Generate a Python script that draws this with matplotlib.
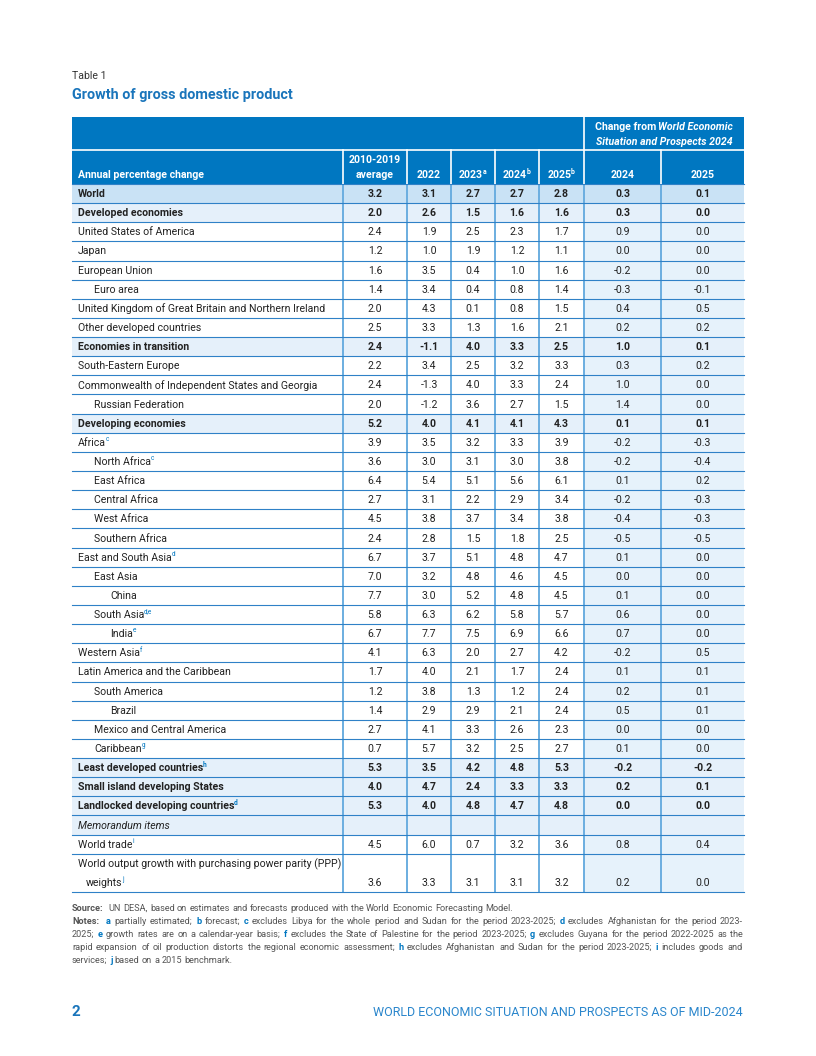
import matplotlib
matplotlib.use("Agg")
import matplotlib.pyplot as plt
from matplotlib.patches import Rectangle

# ---------------- data ----------------
labels = [
    "World", "Developed economies", "United States of America", "Japan",
    "European Union", "Euro area",
    "United Kingdom of Great Britain and Northern Ireland",
    "Other developed countries", "Economies in transition",
    "South-Eastern Europe", "Commonwealth of Independent States and Georgia",
    "Russian Federation", "Developing economies", "Africa", "North Africa",
    "East Africa", "Central Africa", "West Africa", "Southern Africa",
    "East and South Asia", "East Asia", "China", "South Asia", "India",
    "Western Asia", "Latin America and the Caribbean", "South America",
    "Brazil", "Mexico and Central America", "Caribbean",
    "Least developed countries", "Small island developing States",
    "Landlocked developing countries", "Memorandum items", "World trade",
    "World output growth with purchasing power parity (PPP)",
]
indent = [0, 0, 0, 0, 0, 1, 0, 0, 0, 0, 0, 1, 0, 0, 1, 1, 1, 1, 1, 0, 1, 2,
          1, 2, 0, 0, 1, 2, 1, 1, 0, 0, 0, 0, 0, 0]
bold = [1, 1, 0, 0, 0, 0, 0, 0, 1, 0, 0, 0, 1, 0, 0, 0, 0, 0, 0, 0, 0, 0,
        0, 0, 0, 0, 0, 0, 0, 0, 1, 1, 1, 0, 0, 0]
sups = ["", "", "", "", "", "", "", "", "", "", "", "", "", "c", "c", "",
        "", "", "", "d", "", "", "d,e", "e", "f", "", "", "", "", "g", "h",
        "", "d", "", "i", ""]

avg_2010_2019 = [3.2, 2.0, 2.4, 1.2, 1.6, 1.4, 2.0, 2.5, 2.4, 2.2, 2.4, 2.0,
                 5.2, 3.9, 3.6, 6.4, 2.7, 4.5, 2.4, 6.7, 7.0, 7.7, 5.8, 6.7,
                 4.1, 1.7, 1.2, 1.4, 2.7, 0.7, 5.3, 4.0, 5.3, None, 4.5, 3.6]
y2022 = [3.1, 2.6, 1.9, 1.0, 3.5, 3.4, 4.3, 3.3, -1.1, 3.4, -1.3, -1.2,
         4.0, 3.5, 3.0, 5.4, 3.1, 3.8, 2.8, 3.7, 3.2, 3.0, 6.3, 7.7,
         6.3, 4.0, 3.8, 2.9, 4.1, 5.7, 3.5, 4.7, 4.0, None, 6.0, 3.3]
y2023 = [2.7, 1.5, 2.5, 1.9, 0.4, 0.4, 0.1, 1.3, 4.0, 2.5, 4.0, 3.6,
         4.1, 3.2, 3.1, 5.1, 2.2, 3.7, 1.5, 5.1, 4.8, 5.2, 6.2, 7.5,
         2.0, 2.1, 1.3, 2.9, 3.3, 3.2, 4.2, 2.4, 4.8, None, 0.7, 3.1]
y2024 = [2.7, 1.6, 2.3, 1.2, 1.0, 0.8, 0.8, 1.6, 3.3, 3.2, 3.3, 2.7,
         4.1, 3.3, 3.0, 5.6, 2.9, 3.4, 1.8, 4.8, 4.6, 4.8, 5.8, 6.9,
         2.7, 1.7, 1.2, 2.1, 2.6, 2.5, 4.8, 3.3, 4.7, None, 3.2, 3.1]
y2025 = [2.8, 1.6, 1.7, 1.1, 1.6, 1.4, 1.5, 2.1, 2.5, 3.3, 2.4, 1.5,
         4.3, 3.9, 3.8, 6.1, 3.4, 3.8, 2.5, 4.7, 4.5, 4.5, 5.7, 6.6,
         4.2, 2.4, 2.4, 2.4, 2.3, 2.7, 5.3, 3.3, 4.8, None, 3.6, 3.2]
chg2024 = [0.3, 0.3, 0.9, 0.0, -0.2, -0.3, 0.4, 0.2, 1.0, 0.3, 1.0, 1.4,
           0.1, -0.2, -0.2, 0.1, -0.2, -0.4, -0.5, 0.1, 0.0, 0.1, 0.6, 0.7,
           -0.2, 0.1, 0.2, 0.5, 0.0, 0.1, -0.2, 0.2, 0.0, None, 0.8, 0.2]
chg2025 = [0.1, 0.0, 0.0, 0.0, 0.0, -0.1, 0.5, 0.2, 0.1, 0.2, 0.0, 0.0,
           0.1, -0.3, -0.4, 0.2, -0.3, -0.3, -0.5, 0.0, 0.0, 0.0, 0.0, 0.0,
           0.5, 0.1, 0.1, 0.1, 0.0, 0.0, -0.2, 0.1, 0.0, None, 0.4, 0.0]

col_headers = [("2010-2019\naverage", ""), ("2022", ""), ("2023", "a"),
               ("2024", "b"), ("2025", "b"), ("2024", ""), ("2025", "")]

# ---------------- style ----------------
FONT = ["Roboto", "DejaVu Sans"]
plt.rcParams["font.family"] = FONT
BLUE = "#0077C1"
TXT = "#222222"
WORLD_FILL = "#C9E2F5"
BOLD_FILL = "#E5F0FA"
CHG_FILL = "#E6F2FB"
HLINE = "#2F81C7"
VLINE = "#6BAEE0"
GRAY = "#555555"

W, H = 816, 1056
fig = plt.figure(figsize=(W / 100, H / 100), dpi=100)
ax = fig.add_axes([0, 0, 1, 1])
ax.set_xlim(0, W)
ax.set_ylim(H, 0)
ax.axis("off")
renderer = fig.canvas.get_renderer()


def width_of(t):
    return t.get_window_extent(renderer=renderer).width


def text_with_sup(x, y, s, sup, size, weight, color, sup_color, ha="left",
                  style="normal"):
    t = ax.text(x, y, s, fontsize=size, fontweight=weight, color=color,
                ha=ha, va="center", fontstyle=style)
    if sup:
        w = width_of(t)
        xe = x + w
        ax.text(xe - 0.3, y - 3.2, sup, fontsize=size * 0.62,
                fontweight=weight, color=sup_color, ha="left", va="center")
    return t


# column boundaries (px)
xb = [72, 343, 407, 451, 495, 539, 584, 661, 744]
top = 117
hmid = 150
hbot = 184
nunits = len(labels) + 1  # PPP row is double height
tbot = 892
rh = (tbot - hbot) / nunits

# ---------------- titles ----------------
ax.text(72, 76, "Table 1", fontsize=7.6, color="#333333", va="center")
ax.text(72, 94.5, "Growth of gross domestic product", fontsize=10.4,
        fontweight="bold", color="#1A75BB", va="center")

# ---------------- header ----------------
ax.add_patch(Rectangle((xb[0], top), xb[-1] - xb[0], hbot - top,
                       facecolor=BLUE, edgecolor="none"))
ax.plot([xb[0], xb[-1]], [hmid, hmid], color="white", lw=1.2)
ax.plot([xb[6], xb[6]], [top, hbot], color="white", lw=1.2)
for xv in xb[1:6] + [xb[7]]:
    ax.plot([xv, xv], [hmid, hbot], color="white", lw=1.2)

HS = 7.6
ax.text(xb[0] + 6, 175, "Annual percentage change", fontsize=HS,
        fontweight="bold", color="white", va="center")
cx_chg = (xb[6] + xb[8]) / 2
t1 = ax.text(cx_chg, 127, "Change from ", fontsize=HS, fontweight="bold",
             color="white", va="center", ha="left")
t2 = ax.text(cx_chg, 127, "World Economic", fontsize=HS, fontweight="bold",
             fontstyle="italic", color="white", va="center", ha="left")
w1, w2 = width_of(t1), width_of(t2)
x0 = cx_chg - (w1 + w2) / 2
t1.set_x(x0)
t2.set_x(x0 + w1)
ax.text(cx_chg, 142, "Situation and Prospects 2024", fontsize=HS,
        fontweight="bold", fontstyle="italic", color="white", va="center",
        ha="center")
for i, (h, sup) in enumerate(col_headers):
    cx = (xb[i + 1] + xb[i + 2]) / 2
    if "\n" in h:
        a, b = h.split("\n")
        ax.text(cx, 160, a, fontsize=HS, fontweight="bold", color="white",
                ha="center", va="center")
        ax.text(cx, 175, b, fontsize=HS, fontweight="bold", color="white",
                ha="center", va="center")
    else:
        t = ax.text(cx, 175, h, fontsize=HS, fontweight="bold",
                    color="white", ha="center", va="center")
        if sup:
            w = width_of(t)
            t.set_x(cx - 2)
            ax.text(cx - 2 + w / 2 - 0.6, 171.5, sup, fontsize=HS * 0.65,
                    fontweight="bold", color="white", ha="left",
                    va="center")

# ---------------- body ----------------
cols = [avg_2010_2019, y2022, y2023, y2024, y2025, chg2024, chg2025]
BS = 7.6
ytop = hbot
row_tops = []
for r, lab in enumerate(labels):
    units = 2 if r == len(labels) - 1 else 1
    y0 = ytop
    y1 = ytop + units * rh
    row_tops.append((y0, y1))
    # fills
    if r == 0:
        ax.add_patch(Rectangle((xb[0], y0), xb[-1] - xb[0], y1 - y0,
                               facecolor=WORLD_FILL, edgecolor="none"))
    elif bold[r] or lab == "Memorandum items":
        ax.add_patch(Rectangle((xb[0], y0), xb[-1] - xb[0], y1 - y0,
                               facecolor=BOLD_FILL, edgecolor="none"))
    else:
        ax.add_patch(Rectangle((xb[6], y0), xb[-1] - xb[6], y1 - y0,
                               facecolor=CHG_FILL, edgecolor="none"))
    wt = "bold" if bold[r] else "normal"
    st = "italic" if lab == "Memorandum items" else "normal"
    lx = xb[0] + 6 + indent[r] * 16
    if units == 1:
        yc = (y0 + y1) / 2 + 0.5
        text_with_sup(lx, yc, lab, sups[r], BS, wt, TXT, BLUE, style=st)
    else:
        ax.text(lx, y0 + rh / 2 + 0.5, lab, fontsize=BS, color=TXT,
                va="center")
        yc = y0 + 1.5 * rh + 0.5
        text_with_sup(lx + 8, yc, "weights", "j", BS, wt, TXT, BLUE)
    for c, vals in enumerate(cols):
        v = vals[r]
        if v is None:
            continue
        cx = (xb[c + 1] + xb[c + 2]) / 2
        ax.text(cx, yc, f"{v:.1f}", fontsize=BS, fontweight=wt, color=TXT,
                ha="center", va="center")
    ytop = y1

# grid lines
ax.plot([xb[0], xb[-1]], [hbot, hbot], color=HLINE, lw=0.8)
for (y0, y1) in row_tops:
    ax.plot([xb[0], xb[-1]], [y1, y1], color=HLINE, lw=0.8)
for xv in xb[1:8]:
    ax.plot([xv, xv], [hbot, tbot], color=VLINE, lw=1.4, zorder=1.5)

# ---------------- notes ----------------
NS = 6.6
SPACE = NS * 0.36


def draw_line(y, segs, justify_to=None):
    toks = []
    for s, col, wt in segs:
        parts = s.split(" ")
        for k, p in enumerate(parts):
            if p:
                toks.append((p, col, wt))
            if k < len(parts) - 1:
                toks.append((" ", col, wt))
    arts = []
    total = 0
    for p, col, wt in toks:
        if p == " ":
            arts.append((None, SPACE))
            total += SPACE
            continue
        t = ax.text(0, y, p, fontsize=NS, color=col, fontweight=wt,
                    va="center", ha="left")
        w = width_of(t)
        arts.append((t, w))
        total += w
    extra = 0
    nsp = sum(1 for a, _ in arts if a is None)
    if justify_to is not None and nsp:
        extra = max(-SPACE * 0.4, (justify_to - 72 - total) / nsp)
    x = 72
    for a, w in arts:
        if a is None:
            x += w + extra
        else:
            a.set_x(x)
            x += w


L = GRAY
draw_line(908.5, [("Source:", L, "bold"),
                  ("  UN DESA, based on estimates and forecasts produced with "
                   "the World Economic Forecasting Model.", L, "normal")])
draw_line(921.5, [("Notes:", L, "bold"), ("  ", L, "normal"),
                  ("a", BLUE, "bold"), (" partially estimated; ", L, "normal"),
                  ("b", BLUE, "bold"), (" forecast; ", L, "normal"),
                  ("c", BLUE, "bold"),
                  (" excludes Libya for the whole period and Sudan for the "
                   "period 2023-2025; ", L, "normal"),
                  ("d", BLUE, "bold"),
                  (" excludes Afghanistan for the period 2023-", L, "normal")],
          justify_to=743)
draw_line(934.5, [("2025; ", L, "normal"), ("e", BLUE, "bold"),
                  (" growth rates are on a calendar-year basis; ", L, "normal"),
                  ("f", BLUE, "bold"),
                  (" excludes the State of Palestine for the period 2023-2025; ",
                   L, "normal"),
                  ("g", BLUE, "bold"),
                  (" excludes Guyana for the period 2022-2025 as the", L,
                   "normal")], justify_to=743)
draw_line(947.5, [("rapid expansion of oil production distorts the regional "
                   "economic assessment; ", L, "normal"),
                  ("h", BLUE, "bold"),
                  (" excludes Afghanistan and Sudan for the period 2023-2025; ",
                   L, "normal"),
                  ("i", BLUE, "bold"), (" includes goods and", L, "normal")],
          justify_to=743)
draw_line(960.5, [("services; ", L, "normal"), ("j", BLUE, "bold"),
                  (" based on a 2015 benchmark.", L, "normal")])

# ---------------- footer ----------------
ax.text(72, 1012, "2", fontsize=11, fontweight="bold", color="#1A75BB",
        va="center")
ax.text(743, 1012, "WORLD ECONOMIC SITUATION AND PROSPECTS AS OF MID-2024",
        fontsize=9.0, color="#2A86CC", va="center", ha="right")

fig.savefig("out.png", dpi=100)
